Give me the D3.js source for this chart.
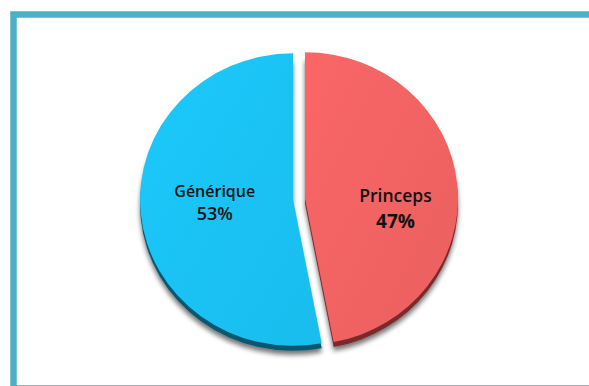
<!DOCTYPE html>
<html>
<head>
<meta charset="utf-8">
<script src="https://cdn.jsdelivr.net/npm/d3@7/dist/d3.min.js"></script>
<style>
  html, body { margin: 0; padding: 0; background: #fff; }
  svg { display: block; }
</style>
</head>
<body>
<svg id="chart" width="589" height="386"></svg>
<script>
// Share of prescriptions: originator vs generic
const categories = ["Princeps", "Générique"];
const shares = [47, 53];
const percentLabels = ["47%", "53%"];

const faceColors = ["#f26363", "#1ac2f4"];
const sideColors = ["#7a2a2c", "#0b5670"];

const svg = d3.select("#chart");

// outer frame
svg.append("rect")
  .attr("x", 13.5).attr("y", 14.5)
  .attr("width", 620).attr("height", 374)
  .attr("fill", "none")
  .attr("stroke", "#4eb0c8")
  .attr("stroke-width", 6.5);

const defs = svg.append("defs");
const shadow = defs.append("filter").attr("id", "shadow")
  .attr("x", "-20%").attr("y", "-20%").attr("width", "140%").attr("height", "140%");
shadow.append("feGaussianBlur").attr("in", "SourceAlpha").attr("stdDeviation", 2.5).attr("result", "b");
shadow.append("feOffset").attr("in", "b").attr("dx", 0).attr("dy", 4).attr("result", "o");
shadow.append("feComponentTransfer").attr("in", "o").attr("result", "s")
  .append("feFuncA").attr("type", "linear").attr("slope", 0.55);
const merge = shadow.append("feMerge");
merge.append("feMergeNode").attr("in", "s");
merge.append("feMergeNode").attr("in", "SourceGraphic");

// subtle sheen on each face
faceColors.forEach((c, i) => {
  const g = defs.append("linearGradient").attr("id", "face" + i)
    .attr("x1", "0%").attr("y1", "0%").attr("x2", "100%").attr("y2", "100%");
  g.append("stop").attr("offset", "0%").attr("stop-color", d3.color(c).brighter(0.08));
  g.append("stop").attr("offset", "100%").attr("stop-color", d3.color(c).darker(0.08));
});

const cx = 299, cy = 199;
const R = 150;
const sx = 1.02, sy = 0.975;   // slight tilt of the disc
const explode = 6;
const depth = 5;

const pie = d3.pie().sort(null).value(d => d).startAngle(0).endAngle(2 * Math.PI);
const arcs = pie(shares);
const arc = d3.arc().innerRadius(0).outerRadius(R);

const root = svg.append("g").attr("transform", `translate(${cx},${cy})`);

arcs.forEach((a, i) => {
  const mid = (a.startAngle + a.endAngle) / 2;
  const ox = Math.sin(mid) * explode;
  const oy = -Math.cos(mid) * explode;
  const g = root.append("g").attr("transform", `translate(${ox},${oy})`);

  // side wall + shadow
  g.append("path")
    .attr("d", arc(a))
    .attr("transform", `translate(0,${depth}) scale(${sx},${sy})`)
    .attr("fill", sideColors[i])
    .attr("filter", "url(#shadow)");
  // top face
  g.append("path")
    .attr("d", arc(a))
    .attr("transform", `scale(${sx},${sy})`)
    .attr("fill", `url(#face${i})`);
});

// labels, placed on each slice at its own radius
const labelRadius = [95, 83];
const nameDy = [12, -10];
const pctDy = [26, 23];
const labelFont = "'Open Sans', 'DejaVu Sans', sans-serif";
const nameSizes = [17.5, 16];
const pctSizes = [19, 18];
const pctWeights = [700, 600];

arcs.forEach((a, i) => {
  const mid = (a.startAngle + a.endAngle) / 2;
  const lx = Math.sin(mid) * labelRadius[i] * sx;
  const ly = -Math.cos(mid) * labelRadius[i] * sy;
  const t = root.append("text")
    .attr("text-anchor", "middle")
    .attr("font-family", labelFont)
    .attr("fill", "#111");
  t.append("tspan")
    .attr("x", lx).attr("y", ly + nameDy[i])
    .attr("font-size", nameSizes[i])
    .attr("font-weight", 600)
    .text(categories[i]);
  t.append("tspan")
    .attr("x", lx).attr("dy", pctDy[i])
    .attr("font-size", pctSizes[i])
    .attr("font-weight", pctWeights[i])
    .text(percentLabels[i]);
});
</script>
</body>
</html>
